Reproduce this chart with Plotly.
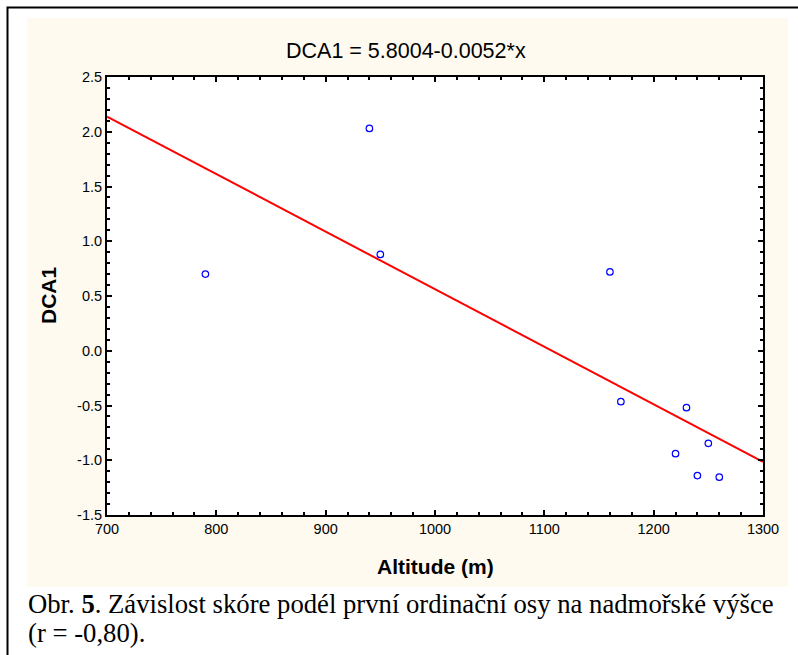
import numpy as np
import plotly.graph_objects as go

# ---- data ----
altitude = [790, 940, 950, 1160, 1170, 1230, 1250, 1220, 1240, 1260]
dca1 = [0.70, 2.03, 0.88, 0.72, -0.465, -0.52, -0.845, -0.94, -1.14, -1.155]

x_tickvals = [700, 800, 900, 1000, 1100, 1200, 1300]
x_ticktext = ["700", "800", "900", "1000", "1100", "1200", "1300"]
y_tickvals = [2.5, 2.0, 1.5, 1.0, 0.5, 0.0, -0.5, -1.0, -1.5]
y_ticktext = ["2.5", "2.0", "1.5", "1.0", "0.5", "0.0", "-0.5", "-1.0", "-1.5"]

title_text = "DCA1 = 5.8004-0.0052*x"
x_title = "Altitude (m)"
y_title = "DCA1"
caption1 = "Obr. <b>5</b>. Závislost skóre podél první ordinační osy na nadmořské výšce"
caption2 = "(r = -0,80)."

# regression line through the points
slope, intercept = np.polyfit(altitude, dca1, 1)
line_x = [700, 1300]
line_y = [intercept + slope * v for v in line_x]

# ---- layout geometry (pixels) ----
W, H = 798, 655
L, R, T, B = 107, 763, 77, 515
pw, ph = R - L, B - T


def px(xp):
    return (xp - L) / pw


def py(yp):
    return (B - yp) / ph


fig = go.Figure()
fig.add_trace(go.Scatter(x=line_x, y=line_y, mode="lines",
                         line=dict(color="#FF0000", width=2), hoverinfo="skip"))
fig.add_trace(go.Scatter(x=altitude, y=dca1, mode="markers",
                         marker=dict(symbol="circle-open", size=6.5,
                                     color="#0000FF", line=dict(width=1.2, color="#0000FF"))))

axis_common = dict(showgrid=False, zeroline=False, showline=True, linecolor="black",
                   linewidth=2, mirror="ticks", ticks="inside", ticklen=5, tickwidth=2,
                   tickcolor="black",
                   tickfont=dict(family="Liberation Sans, Arial", size=14.5, color="black"))

fig.update_xaxes(range=[700, 1300], tickvals=x_tickvals, ticktext=x_ticktext,
                 minor=dict(dtick=20, tick0=700, ticks="inside", ticklen=3,
                            tickwidth=2, tickcolor="black"),
                 **axis_common)
fig.update_yaxes(range=[-1.5, 2.5], tickvals=y_tickvals, ticktext=y_ticktext,
                 minor=dict(dtick=0.1, tick0=-1.5, ticks="inside", ticklen=3,
                            tickwidth=2, tickcolor="black"),
                 **axis_common)

shapes = [
    # cream panel
    dict(type="rect", xref="paper", yref="paper", layer="below",
         x0=px(27), x1=px(788), y0=py(587), y1=py(18),
         fillcolor="#FEFAF0", line=dict(width=0)),
    # white plot area
    dict(type="rect", xref="paper", yref="paper", layer="below",
         x0=0, x1=1, y0=0, y1=1, fillcolor="white", line=dict(width=0)),
    # outer frame
    dict(type="rect", xref="paper", yref="paper", layer="above",
         x0=px(7.5), x1=px(820), y0=py(680), y1=py(7.5),
         fillcolor="rgba(0,0,0,0)", line=dict(color="black", width=2)),
]

annotations = [
    dict(text=title_text, xref="paper", yref="paper", x=px(406), y=py(51),
         xanchor="center", yanchor="middle", showarrow=False,
         font=dict(family="Liberation Sans, Arial", size=21.5, color="black")),
    dict(text="<b>" + x_title + "</b>", xref="paper", yref="paper", x=px(435), y=py(566),
         xanchor="center", yanchor="middle", showarrow=False,
         font=dict(family="Liberation Sans, Arial", size=21, color="black")),
    dict(text="<b>" + y_title + "</b>", xref="paper", yref="paper", x=px(48), y=py(296),
         xanchor="center", yanchor="middle", showarrow=False, textangle=-90,
         font=dict(family="Liberation Sans, Arial", size=21, color="black")),
    dict(text=caption1, xref="paper", yref="paper", x=px(26), y=py(604),
         xanchor="left", yanchor="middle", showarrow=False,
         font=dict(family="Liberation Serif, Times New Roman", size=26.7, color="black")),
    dict(text=caption2, xref="paper", yref="paper", x=px(26), y=py(633),
         xanchor="left", yanchor="middle", showarrow=False,
         font=dict(family="Liberation Serif, Times New Roman", size=26.7, color="black")),
]

fig.update_layout(width=W, height=H, margin=dict(l=L, r=W - R, t=T, b=H - B),
                  paper_bgcolor="white", plot_bgcolor="white", showlegend=False,
                  shapes=shapes, annotations=annotations)

fig.write_html("out.html")
